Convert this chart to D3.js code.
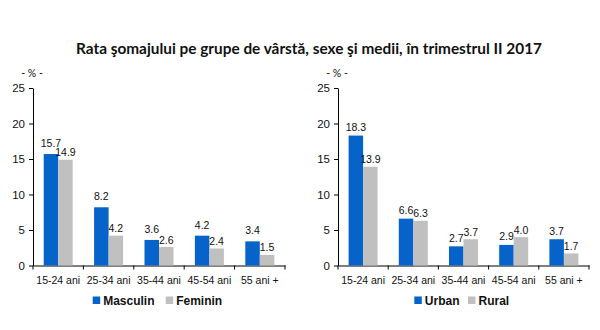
<!DOCTYPE html>
<html><head><meta charset="utf-8">
<script src="https://cdn.jsdelivr.net/npm/d3@7"></script>
<style>
body{margin:0;background:#fff;}
svg{display:block;}
text{font-family:"Liberation Sans",Arial,sans-serif;fill:#111;}
</style></head>
<body>
<svg id="c" width="600" height="330"></svg>
<script>
const title = "Rata şomajului pe grupe de vârstă, sexe şi medii, în trimestrul II 2017";
const unitLabel = "- % -";
const categories = ["15-24 ani","25-34 ani","35-44 ani","45-54 ani","55 ani +"];
const masculin = [15.7, 8.2, 3.6, 4.2, 3.4];
const feminin  = [14.9, 4.2, 2.6, 2.4, 1.5];
const urban    = [18.3, 6.6, 2.7, 2.9, 3.7];
const rural    = [13.9, 6.3, 3.7, 4.0, 1.7];
const yTicks = [0, 5, 10, 15, 20, 25];
const seriesNamesLeft = ["Masculin", "Feminin"];
const seriesNamesRight = ["Urban", "Rural"];
const colors = ["#0563C9", "#C0C0C0"];

const svg = d3.select("#c");

svg.append("text")
  .attr("x", 309).attr("y", 54)
  .attr("text-anchor", "middle")
  .attr("textLength", 466).attr("lengthAdjust", "spacingAndGlyphs")
  .style("font-family", "Lato, 'Open Sans', sans-serif")
  .style("font-weight", "bold").style("font-size", "15px")
  .text(title);

function drawChart(cfg) {
  const g = svg.append("g");
  const y = d3.scaleLinear().domain([0, 25]).range([265.5, 88]);
  const x = d3.scaleBand().domain(categories).range([cfg.x0, cfg.x1]).padding(0);
  const barW = 14.5;

  // unit label
  g.append("text").attr("x", cfg.x0 - 1).attr("y", 77)
    .attr("text-anchor", "middle")
    .style("font-family", "Lato, sans-serif").style("font-size", "10.5px")
    .text(unitLabel);

  // y axis
  const ya = g.append("g").attr("transform", `translate(${cfg.x0},0)`)
    .call(d3.axisLeft(y).tickValues(yTicks).tickSize(4).tickSizeOuter(0).tickPadding(4));
  ya.select(".domain").attr("stroke", "#000");
  ya.selectAll(".tick line").attr("stroke", "#000");
  ya.selectAll(".tick text").style("font-size", "11.5px")
    .style("font-family", "'Liberation Sans',Arial,sans-serif").attr("fill", "#111");

  // x axis
  const xa = g.append("g").attr("transform", `translate(0,${y(0)})`)
    .call(d3.axisBottom(x).tickSize(0).tickSizeOuter(0).tickPadding(11));
  xa.select(".domain").attr("stroke", "#000");
  xa.selectAll(".tick text").style("font-size", "10.5px")
    .style("font-family", "'Liberation Sans',Arial,sans-serif").attr("fill", "#111");
  const bounds = categories.map(c => x(c)).concat([x.range()[1]]);
  xa.selectAll(".bound").data(bounds).enter().append("line")
    .attr("x1", d => d).attr("x2", d => d).attr("y1", 0).attr("y2", 4)
    .attr("stroke", "#000");

  // bars
  cfg.series.forEach((vals, si) => {
    const gx = c => x(c) + x.bandwidth() / 2 - barW + si * barW;
    g.selectAll(null).data(categories).enter().append("rect")
      .attr("x", (c) => gx(c)).attr("width", barW)
      .attr("y", (c, i) => y(vals[i])).attr("height", (c, i) => y(0) - y(vals[i]))
      .attr("fill", colors[si]);
    g.selectAll(null).data(categories).enter().append("text")
      .attr("x", c => gx(c) + barW / 2)
      .attr("y", (c, i) => y(vals[i]) - cfg.gaps[si])
      .attr("text-anchor", "middle")
      .style("font-size", "10.5px")
      .text((c, i) => vals[i].toFixed(1));
  });

  // legend
  cfg.names.forEach((n, i) => {
    const lx = cfg.legendX[i];
    g.append("rect").attr("x", lx).attr("y", 296.5).attr("width", 7.5).attr("height", 7.5)
      .attr("fill", colors[i]);
    g.append("text").attr("x", lx + 10.5).attr("y", 304.5)
      .style("font-weight", "bold").style("font-size", "12px")
      .text(n);
  });
}

drawChart({x0: 33, x1: 285, series: [masculin, feminin], gaps: [7, 3.5],
  names: seriesNamesLeft, legendX: [92.7, 165.7]});
drawChart({x0: 338, x1: 589, series: [urban, rural], gaps: [4.5, 3.5],
  names: seriesNamesRight, legendX: [414.3, 468]});
</script>
</body></html>
